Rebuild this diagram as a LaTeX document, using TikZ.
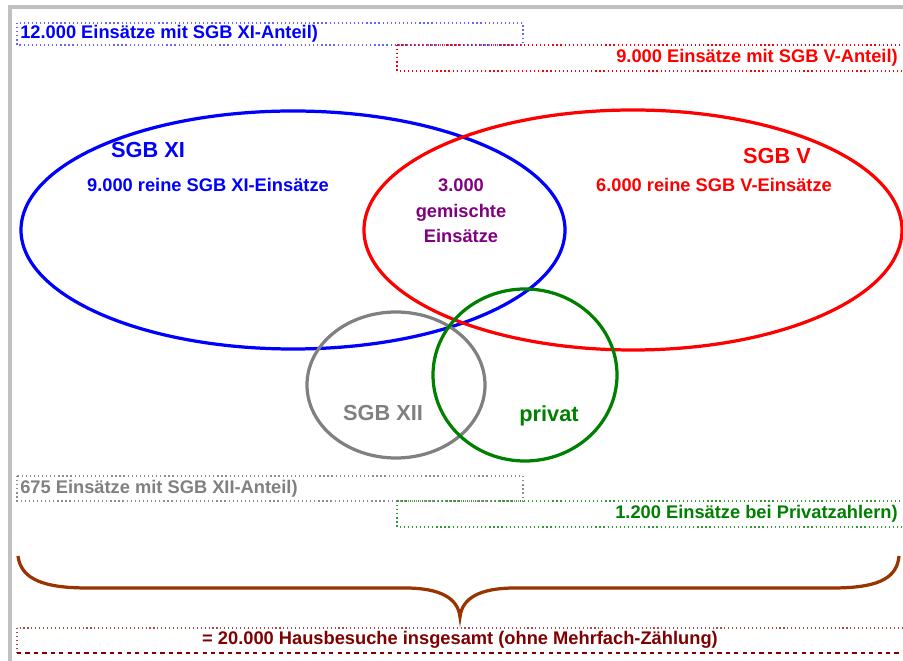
\documentclass[tikz,border=0pt]{standalone}
\usepackage{fontspec}
\setmainfont{Liberation Sans}
\usetikzlibrary{calc}

\definecolor{xiblue}{RGB}{0,0,255}
\definecolor{vred}{RGB}{255,0,0}
\definecolor{mixpurple}{RGB}{128,0,128}
\definecolor{xiigray}{RGB}{128,128,128}
\definecolor{privgreen}{RGB}{0,128,0}
\definecolor{bracebrown}{RGB}{153,51,0}
\definecolor{totalred}{RGB}{128,0,0}
\definecolor{framegray}{RGB}{192,192,192}

\begin{document}
\begin{tikzpicture}[x=0.025cm, y=-0.025cm,
    set/.style={line width=2.3pt},
    boxline/.style={dotted, line width=0.9pt},
    label/.style={font=\fontsize{13}{15}\selectfont\bfseries, inner sep=0pt},
    title/.style={font=\fontsize{15.5}{18}\selectfont\bfseries, inner sep=0pt}]

    \useasboundingbox (0,0) rectangle (903,661);

    % frame
    \draw[framegray, line width=2.8pt] (10,661) -- (10,7) -- (905,7);

    % boxes on top
    \draw[boxline, xiblue!60] (17,23) rectangle (523,45);
    \node[label, text=xiblue, anchor=west] (xitotal) at (20,34)
    {12.000 Einsätze mit SGB XI-Anteil)};

    \draw[boxline, vred] (397,45) rectangle (906,71);
    \node[label, text=vred, anchor=east] (vtotal) at (898,58)
    {9.000 Einsätze mit SGB V-Anteil)};

    % the sets
    \draw[set, xiblue] (293,230) ellipse [x radius=272, y radius=119];
    \draw[set, vred] (633,230) ellipse [x radius=269, y radius=120];
    \draw[set, xiigray] (396,385) ellipse [x radius=89, y radius=73];
    \draw[set, privgreen] (525,375) ellipse [x radius=92, y radius=86];

    \node[title, text=xiblue] (xi) at (148,150) {SGB XI};
    \node[label, text=xiblue] (xionly) at (208,185)
    {9.000 reine SGB XI-Einsätze};

    \node[title, text=vred] (v) at (777,156) {SGB V};
    \node[label, text=vred] (vonly) at (714,185)
    {6.000 reine SGB V-Einsätze};

    \node[label, text=mixpurple, align=center,
      font=\fontsize{13}{18}\selectfont\bfseries] (mixed) at (461,211)
    {3.000\\gemischte\\Einsätze};

    \node[title, text=xiigray] (xii) at (383,413) {SGB XII};
    \node[title, text=privgreen] (priv) at (549,416) {privat};

    % boxes below
    \draw[boxline, xiigray!90] (17,476) rectangle (523,501);
    \node[label, text=xiigray, anchor=west] (xiitotal) at (20,489)
    {675 Einsätze mit SGB XII-Anteil)};

    \draw[boxline, privgreen!80] (397,501) rectangle (906,527);
    \node[label, text=privgreen, anchor=east] (privtotal) at (898,514)
    {1.200 Einsätze bei Privatzahlern)};

    % brace
    \coordinate (braceL) at (18,556);
    \coordinate (braceTip) at (460,617);
    \coordinate (braceR) at (899,556);
    \draw[bracebrown, line width=2.3pt]
    (braceL) .. controls (21,580) and (45,588) .. (88,588)
    -- (405,588)
    .. controls (440,588) and (458,598) .. (braceTip)
    .. controls (462,598) and (480,588) .. (515,588)
    -- (832,588)
    .. controls (875,588) and (897,580) .. (braceR);

    % total
    \draw[totalred!70, dotted, line width=0.8pt] (17,653) -- (17,628) -- (906,628);
    \draw[totalred, dashed, line width=0.8pt] (17,653) -- (906,653);
    \node[label, text=totalred] (total) at (460,640)
    {= 20.000 Hausbesuche insgesamt (ohne Mehrfach-Zählung)};
\end{tikzpicture}
\end{document}
